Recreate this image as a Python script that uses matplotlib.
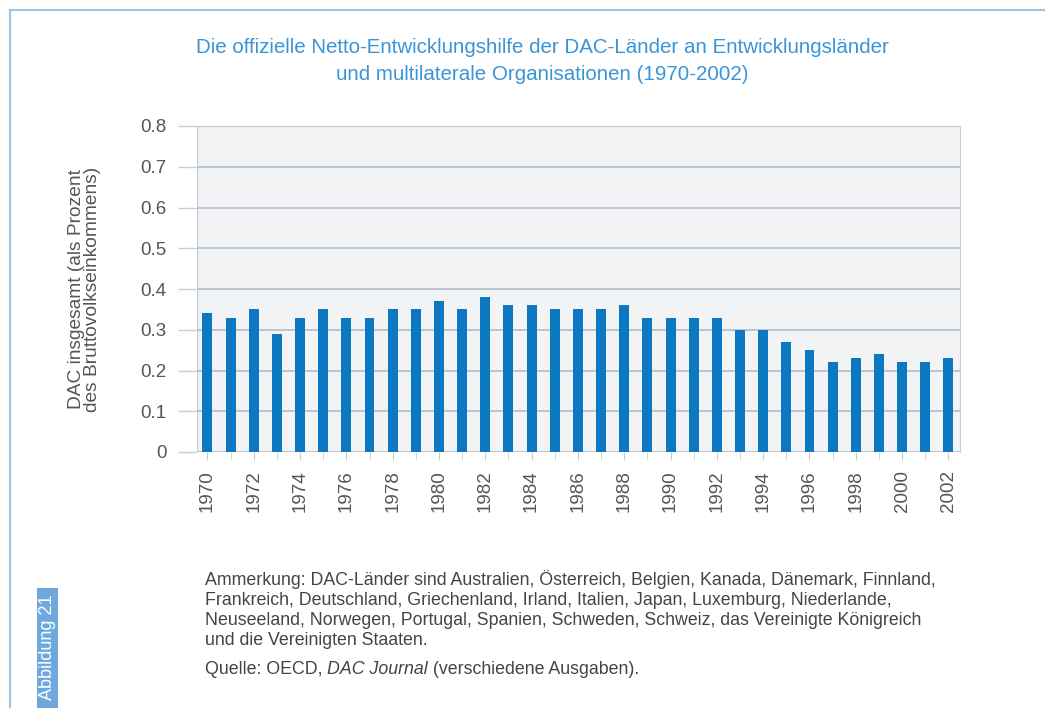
import matplotlib
matplotlib.use("Agg")
import matplotlib.pyplot as plt
from matplotlib.patches import Rectangle
from matplotlib.lines import Line2D

# Daten
years = list(range(1970, 2003))
oda_share = [0.34, 0.33, 0.35, 0.29, 0.33, 0.35, 0.33, 0.33, 0.35, 0.35,
             0.37, 0.35, 0.38, 0.36, 0.36, 0.35, 0.35, 0.35, 0.36, 0.33,
             0.33, 0.33, 0.33, 0.30, 0.30, 0.27, 0.25, 0.22, 0.23, 0.24,
             0.22, 0.22, 0.23]
yticks = [0, 0.1, 0.2, 0.3, 0.4, 0.5, 0.6, 0.7, 0.8]
ytick_labels = ["0", "0.1", "0.2", "0.3", "0.4", "0.5", "0.6", "0.7", "0.8"]

title = ("Die offizielle Netto-Entwicklungshilfe der DAC-Länder an Entwicklungsländer\n"
         "und multilaterale Organisationen (1970-2002)")
ylabel = "DAC insgesamt (als Prozent\ndes Bruttovolkseinkommens)"
note = ("Ammerkung: DAC-Länder sind Australien, Österreich, Belgien, Kanada, Dänemark, Finnland,\n"
        "Frankreich, Deutschland, Griechenland, Irland, Italien, Japan, Luxemburg, Niederlande,\n"
        "Neuseeland, Norwegen, Portugal, Spanien, Schweden, Schweiz, das Vereinigte Königreich\n"
        "und die Vereinigten Staaten.")

plt.rcParams["font.family"] = ["Liberation Sans", "DejaVu Sans"]
bar_color = "#0b78c1"
text_gray = "#555555"
note_gray = "#444444"

W, H = 1045, 708
fig = plt.figure(figsize=(W / 100, H / 100), dpi=100)

# Rahmenlinien oben und links
fig.add_artist(Line2D([10 / W, 1], [1 - 10 / H, 1 - 10 / H], color="#9cc4e4", lw=1.5))
fig.add_artist(Line2D([10 / W, 10 / W], [0, 1 - 10 / H], color="#9cc4e4", lw=1.5))

# Seitenbalken "Abbildung 21"
fig.add_artist(Rectangle((37 / W, 0), 21 / W, 120 / H, transform=fig.transFigure,
                         color="#6fa8dc", lw=0))
fig.text(47.5 / W, 1 - 594 / H, "Abbildung 21", rotation=90, color="white", fontsize=13,
         ha="center", va="top")

ax = fig.add_axes([197 / W, 1 - 452 / H, (960 - 197) / W, (452 - 126) / H])
ax.set_facecolor("#f1f3f5")
x = list(range(len(years)))
ax.bar(x, oda_share, width=0.43, color=bar_color, zorder=3)

ax.set_ylim(0, 0.8)
ax.set_xlim(-0.45, len(years) - 0.5)
ax.set_yticks(yticks)
ax.set_yticklabels(ytick_labels, fontsize=13.5, color=text_gray)
ax.yaxis.grid(True, color="#b4bccb", lw=1.2, zorder=0)
ax.tick_params(axis="y", length=14, color="#c8ced8", pad=8, width=1)

ax.set_xticks(x[::2])
ax.set_xticklabels([str(y) for y in years[::2]], rotation=90, fontsize=13.5, color=text_gray)
ax.set_xticks(x, minor=True)
ax.tick_params(axis="x", which="both", length=6, color="#c8ced8", pad=7)

for side in ["top", "left", "bottom"]:
    ax.spines[side].set_visible(False)
ax.spines["right"].set_color("#c8ced8")
ax.axvline(-0.45, color="#c8ced8", lw=1, zorder=1)

ax.set_ylabel(ylabel, fontsize=13.8, color=text_gray, labelpad=28, linespacing=0.95)

fig.text(542 / W, 1 - 61 / H, title, ha="center", va="center", fontsize=14.8,
         color="#3a94d6", linespacing=1.55)

fig.text(205 / W, 1 - 570 / H, note, ha="left", va="top", fontsize=12.8,
         color=note_gray, linespacing=1.22)

# Quellenzeile mit kursivem Titel
fig.canvas.draw()
r = fig.canvas.get_renderer()
t1 = fig.text(205 / W, 1 - 669 / H, "Quelle: OECD, ", ha="left", va="center", fontsize=12.8,
              color=note_gray)
bb = t1.get_window_extent(r)
t2 = fig.text(bb.x1 / W, 1 - 669 / H, "DAC Journal", ha="left", va="center", fontsize=12.8,
              color=note_gray, style="italic")
bb = t2.get_window_extent(r)
fig.text(bb.x1 / W, 1 - 669 / H, " (verschiedene Ausgaben).", ha="left", va="center",
         fontsize=12.8, color=note_gray)

fig.savefig("out.png", dpi=100)
